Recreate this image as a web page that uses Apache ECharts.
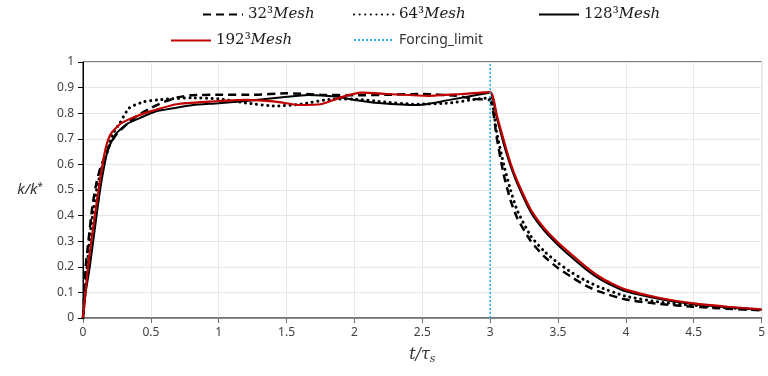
<!DOCTYPE html>
<html>
<head>
<meta charset="utf-8">
<script src="https://cdn.jsdelivr.net/npm/echarts@6/dist/echarts.min.js"></script>
<style>html,body{margin:0;padding:0;background:#fff}#c{width:768px;height:376px}</style>
</head>
<body>
<div id="c"></div>
<script>
// ---- data ----
const xTicks = [0, 0.5, 1, 1.5, 2, 2.5, 3, 3.5, 4, 4.5, 5];
const yTicks = [0, 0.1, 0.2, 0.3, 0.4, 0.5, 0.6, 0.7, 0.8, 0.9, 1];

const seriesNames = ['32³Mesh', '64³Mesh', '128³Mesh', '192³Mesh', 'Forcing_limit'];

const t32 = [0, 0.02, 0.04, 0.07, 0.1, 0.13, 0.17, 0.2, 0.25, 0.33, 0.4, 0.5, 0.6, 0.7, 0.8, 1.0, 1.25, 1.5, 1.75, 2.0, 2.25, 2.5, 2.75, 2.9, 3.0,
             3.05, 3.1, 3.15, 3.2, 3.3, 3.4, 3.5, 3.6, 3.7, 3.8, 4.0, 4.25, 4.5, 4.75, 5.0];
const k32 = [0, 0.2, 0.3, 0.44, 0.53, 0.59, 0.64, 0.68, 0.72, 0.76, 0.79, 0.82, 0.845, 0.862, 0.87, 0.872, 0.872, 0.878, 0.872, 0.87, 0.872, 0.875, 0.868, 0.855, 0.85,
             0.7, 0.56, 0.46, 0.39, 0.3, 0.24, 0.195, 0.16, 0.128, 0.104, 0.072, 0.055, 0.044, 0.036, 0.03];

const t64 = [0, 0.03, 0.06, 0.1, 0.14, 0.18, 0.22, 0.27, 0.34, 0.45, 0.55, 0.65, 0.8, 1.0, 1.2, 1.42, 1.6, 1.85, 2.0, 2.2, 2.45, 2.7, 2.9, 3.0,
             3.05, 3.1, 3.15, 3.2, 3.3, 3.4, 3.5, 3.6, 3.7, 3.8, 4.0, 4.25, 4.5, 4.75, 5.0];
const k64 = [0, 0.2, 0.36, 0.5, 0.59, 0.65, 0.72, 0.76, 0.82, 0.845, 0.852, 0.856, 0.86, 0.856, 0.84, 0.828, 0.835, 0.855, 0.855, 0.845, 0.835, 0.84, 0.855, 0.86,
             0.72, 0.6, 0.5, 0.42, 0.32, 0.26, 0.215, 0.178, 0.147, 0.122, 0.085, 0.062, 0.05, 0.04, 0.032];

const t128 = [0, 0.02, 0.05, 0.1, 0.134, 0.183, 0.244, 0.33, 0.44, 0.5, 0.56, 0.73, 0.81, 1.0, 1.22, 1.47, 1.66, 1.86, 2.0, 2.18, 2.47, 2.7, 2.9, 3.0,
              3.05, 3.1, 3.15, 3.2, 3.3, 3.4, 3.5, 3.6, 3.7, 3.8, 3.9, 4.0, 4.25, 4.5, 4.75, 5.0];
const k128 = [0, 0.1, 0.2, 0.4, 0.527, 0.656, 0.72, 0.76, 0.786, 0.8, 0.81, 0.825, 0.832, 0.839, 0.849, 0.862, 0.871, 0.865, 0.852, 0.84, 0.832, 0.852, 0.871, 0.88,
              0.78, 0.68, 0.595, 0.525, 0.413, 0.34, 0.285, 0.237, 0.193, 0.155, 0.127, 0.104, 0.074, 0.054, 0.042, 0.032];

const t192 = [0, 0.037, 0.086, 0.122, 0.164, 0.206, 0.28, 0.38, 0.49, 0.69, 0.93, 1.2, 1.42, 1.59, 1.76, 1.9, 2.05, 2.25, 2.54, 2.79, 3.0,
              3.05, 3.1, 3.15, 3.2, 3.3, 3.4, 3.5, 3.6, 3.7, 3.8, 3.9, 4.0, 4.25, 4.5, 4.75, 5.0];
const k192 = [0, 0.2, 0.396, 0.527, 0.656, 0.72, 0.76, 0.785, 0.806, 0.835, 0.845, 0.852, 0.845, 0.832, 0.836, 0.862, 0.88, 0.875, 0.868, 0.875, 0.882,
              0.79, 0.695, 0.605, 0.535, 0.423, 0.35, 0.295, 0.248, 0.203, 0.163, 0.134, 0.111, 0.078, 0.057, 0.044, 0.034];

const tForce = [3, 3];
const kForce = [0, 1];

// ---- build ----
const pairs = (t, k) => t.map((v, i) => [v, k[i]]);
const chart = echarts.init(document.getElementById('c'), null, {renderer: 'canvas'});

const meshRich = {
  n: {fontFamily: 'DejaVu Serif', fontSize: 15, color: '#1a1a1a'},
  i: {fontFamily: 'DejaVu Serif', fontStyle: 'italic', fontSize: 15, color: '#1a1a1a'}
};
const meshFmt = name => {
  const p = name.split('Mesh');
  return '{n|' + p[0] + '}{i|Mesh}';
};
function legendFor(name, left, top, fmt) {
  return {
    data: [name], left: left, top: top, orient: 'horizontal',
    itemWidth: 40, itemHeight: 12, itemGap: 0, padding: 0,
    itemStyle: {opacity: 0},
    formatter: fmt,
    textStyle: {rich: meshRich, fontFamily: 'Noto Sans', fontSize: 14, color: '#333'}
  };
}

const option = {
  animation: false,
  backgroundColor: '#ffffff',
  legend: [
    legendFor(seriesNames[0], 202, 7, meshFmt),
    legendFor(seriesNames[1], 353, 7, meshFmt),
    legendFor(seriesNames[2], 538, 7, meshFmt),
    legendFor(seriesNames[3], 170, 33, meshFmt),
    legendFor(seriesNames[4], 353, 33, null)
  ],
  grid: {left: 83, right: 3, top: 62, bottom: 58, show: true, borderColor: '#000', borderWidth: 1, containLabel: false},
  xAxis: {
    type: 'value', min: 0, max: 5, interval: 0.5,
    name: '{i|t/τ}{s|s}', nameLocation: 'middle', nameGap: 26,
    nameTextStyle: {rich: {
      i: {fontFamily: 'DejaVu Serif', fontStyle: 'italic', fontSize: 16, color: '#333'},
      s: {fontFamily: 'DejaVu Serif', fontStyle: 'italic', fontSize: 11, color: '#333', padding: [10, 0, 0, 0]}
    }},
    axisLine: {show: true, lineStyle: {color: '#707070', width: 1.5}},
    axisTick: {show: true, inside: false, length: 5, lineStyle: {color: '#707070'}},
    axisLabel: {fontFamily: 'Noto Sans', fontSize: 12, color: '#404040', margin: 9,
      formatter: v => String(Math.round(v * 10) / 10)},
    splitLine: {show: true, lineStyle: {color: '#e6e6e6', width: 1}}
  },
  yAxis: {
    type: 'value', min: 0, max: 1, interval: 0.1,
    name: '{i|k/k}{s|*}', nameLocation: 'middle', nameRotate: 0, nameGap: 40,
    nameTextStyle: {rich: {
      i: {fontFamily: 'Noto Sans', fontStyle: 'italic', fontSize: 15, color: '#333'},
      s: {fontFamily: 'Noto Sans', fontSize: 10, color: '#333', padding: [0, 0, 6, 0]}
    }},
    axisLine: {show: true, lineStyle: {color: '#000', width: 1}},
    axisTick: {show: true, inside: false, length: 5, lineStyle: {color: '#000'}},
    axisLabel: {fontFamily: 'Noto Sans', fontSize: 12, color: '#404040', margin: 9,
      formatter: v => String(Math.round(v * 10) / 10)},
    splitLine: {show: true, lineStyle: {color: '#e6e6e6', width: 1}}
  },
  series: [
    {name: seriesNames[0], type: 'line', data: pairs(t32, k32), symbol: 'none', smooth: 0.2,
     lineStyle: {color: '#000', width: 2.5, type: [8, 5]}, itemStyle: {color: '#000'}},
    {name: seriesNames[1], type: 'line', data: pairs(t64, k64), symbol: 'none', smooth: 0.2,
     lineStyle: {color: '#000', width: 3, type: [0.1, 5.5], cap: 'round'}, itemStyle: {color: '#000'}},
    {name: seriesNames[2], type: 'line', data: pairs(t128, k128), symbol: 'none', smooth: 0.2,
     lineStyle: {color: '#000', width: 2}, itemStyle: {color: '#000'}},
    {name: seriesNames[3], type: 'line', data: pairs(t192, k192), symbol: 'none', smooth: 0.2,
     lineStyle: {color: '#c00000', width: 2.2}, itemStyle: {color: '#c00000'}},
    {name: seriesNames[4], type: 'line', data: pairs(tForce, kForce), symbol: 'none',
     lineStyle: {color: '#2eb2ea', width: 1.6, type: [2, 2]}, itemStyle: {color: '#2eb2ea'}}
  ]
};
chart.setOption(option);
</script>
</body>
</html>
